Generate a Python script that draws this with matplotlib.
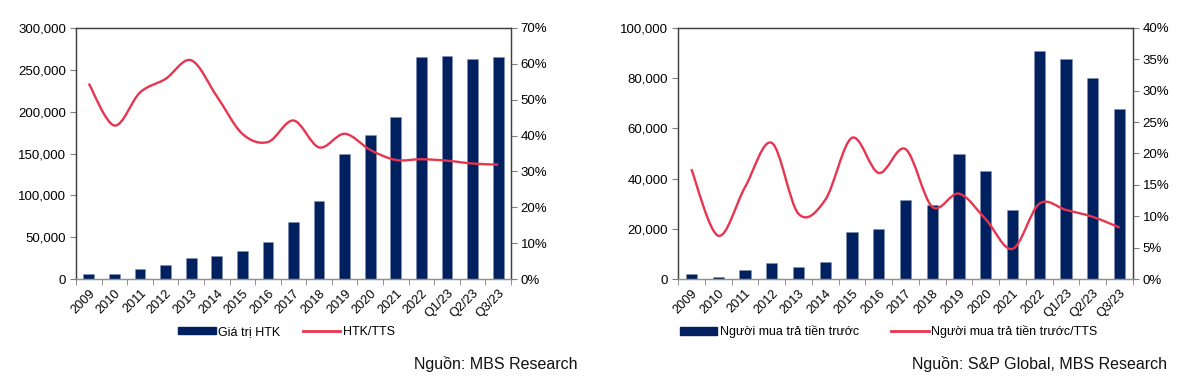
import numpy as np
import matplotlib
matplotlib.use("Agg")
import matplotlib.pyplot as plt
from matplotlib.path import Path
from matplotlib.patches import PathPatch, Patch
from matplotlib.lines import Line2D
from matplotlib.ticker import FuncFormatter, MultipleLocator

plt.rcParams['font.family'] = ['Liberation Sans', 'DejaVu Sans']

categories = ['2009', '2010', '2011', '2012', '2013', '2014', '2015', '2016', '2017',
              '2018', '2019', '2020', '2021', '2022', 'Q1/23', 'Q2/23', 'Q3/23']

# left panel: inventory value and inventory / total assets
htk_value = [6000, 6000, 12000, 16800, 25200, 27200, 33600, 44400, 68400,
             93600, 150000, 172000, 193600, 264800, 266000, 263200, 264800]
htk_ratio = [54.5, 42.8, 52.0, 55.8, 61.0, 51.0, 40.5, 38.2, 44.2,
             36.7, 40.5, 36.0, 33.2, 33.4, 33.0, 32.2, 31.9]

# right panel: customer prepayments and prepayments / total assets
prepay_value = [2000, 800, 3500, 6400, 4600, 6800, 18900, 20000, 31600,
                29600, 49700, 42900, 27600, 90900, 87700, 80100, 67900]
prepay_ratio = [17.5, 6.9, 14.6, 21.7, 10.4, 12.6, 22.5, 16.9, 20.7,
                11.5, 13.6, 9.5, 4.8, 12.0, 11.0, 9.9, 8.2]

NAVY = '#00205F'
RED = '#E8354F'
W, H = 1183, 387


def smooth_path(x, y):
    # Excel-style smoothed line: cubic bezier segments through every data point
    x = np.asarray(x, float)
    y = np.asarray(y, float)
    pts = np.column_stack([x, y])
    verts = [pts[0]]
    codes = [Path.MOVETO]
    n = len(pts)
    for i in range(n - 1):
        p0 = pts[i - 1] if i > 0 else pts[i]
        p1 = pts[i]
        p2 = pts[i + 1]
        p3 = pts[i + 2] if i + 2 < n else pts[i + 1]
        c1 = p1 + (p2 - p0) / 6.0
        c2 = p2 - (p3 - p1) / 6.0
        verts += [c1, c2, p2]
        codes += [Path.CURVE4] * 3
    return Path(verts, codes)


def panel(left_px, right_px, bars, ratio, ymax, ystep, rmax, rstep, bar_label, line_label,
          source, src_x, leg_anchor, colspace):
    ax = fig.add_axes([left_px / W, 1 - 279 / H, (right_px - left_px) / W, 251 / H])
    x = np.arange(len(categories))
    ax.bar(x, bars, width=0.42, color=NAVY, edgecolor='#8090B0', linewidth=0.4, zorder=2)
    ax.set_xlim(-0.5, len(categories) - 0.5)
    ax.set_ylim(0, ymax)
    ax.yaxis.set_major_locator(MultipleLocator(ystep))
    ax.yaxis.set_major_formatter(FuncFormatter(lambda v, p: f'{int(v):,}'))
    ax.set_xticks(x)
    ax.set_xticklabels(categories, rotation=45, ha='right', rotation_mode='anchor', fontsize=9.2)
    ax.set_xticks(np.arange(-0.5, len(categories) + 0.5, 1), minor=True)
    ax.tick_params(axis='x', which='major', length=0, pad=6)
    ax.tick_params(axis='x', which='minor', length=4, color='#808080', direction='out')
    ax.tick_params(axis='y', labelsize=9.5, length=4, color='#808080', pad=3)
    for s in ax.spines.values():
        s.set_color('#404040')
        s.set_linewidth(0.9)
    ax.spines['bottom'].set_color('#909090')

    ax2 = ax.twinx()
    ax2.set_ylim(0, rmax)
    ax2.yaxis.set_major_locator(MultipleLocator(rstep))
    ax2.yaxis.set_major_formatter(FuncFormatter(lambda v, p: f'{int(round(v))}%'))
    ax2.tick_params(axis='y', labelsize=9.5, length=4, color='#808080', pad=3)
    ax2.add_patch(PathPatch(smooth_path(x, ratio), facecolor='none', edgecolor=RED,
                            linewidth=1.7, zorder=3))
    for s in ax2.spines.values():
        s.set_color('#404040')
        s.set_linewidth(0.9)
    ax2.spines['bottom'].set_color('#909090')

    handles = [Patch(facecolor=NAVY, edgecolor=NAVY),
               Line2D([], [], color=RED, linewidth=2)]
    ax.legend(handles, [bar_label, line_label], loc='center', bbox_to_anchor=leg_anchor,
              ncol=2, frameon=False, fontsize=9, handlelength=3.0, handleheight=0.55,
              handletextpad=0.2, columnspacing=colspace)
    fig.text(src_x / W, 1 - 364 / H, source, ha='right', va='center', fontsize=11.5,
             color='#111111')


fig = plt.figure(figsize=(W / 100, H / 100), dpi=100)

panel(76, 511, htk_value, htk_ratio, 300000, 50000, 70, 10,
      'Giá trị HTK', 'HTK/TTS', 'Nguồn: MBS Research', 577, (0.484, -0.21), 1.8)
panel(678, 1133, prepay_value, prepay_ratio, 100000, 20000, 40, 5,
      'Người mua trả tiền trước', 'Người mua trả tiền trước/TTS',
      'Nguồn: S&P Global, MBS Research', 1167, (0.463, -0.21), 2.6)

fig.savefig('out.png', dpi=100)
